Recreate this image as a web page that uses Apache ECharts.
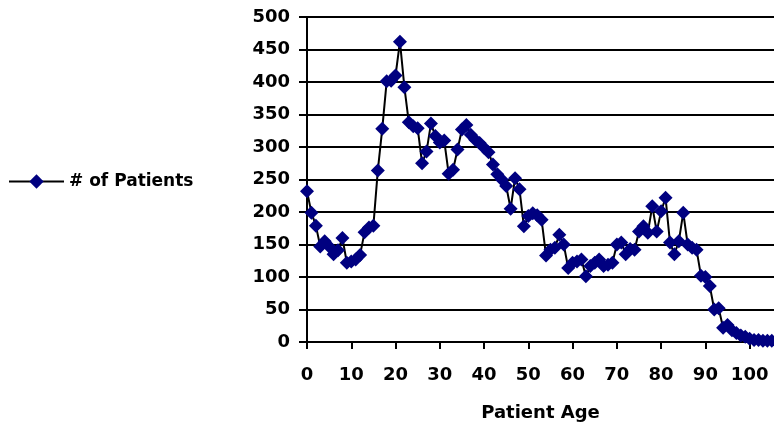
<!DOCTYPE html>
<html>
<head>
<meta charset="utf-8">
<script src="https://cdn.jsdelivr.net/npm/echarts@6/dist/echarts.min.js"></script>
<style>
html,body{margin:0;padding:0;background:#fff;}
#chart{width:774px;height:427px;}
</style>
</head>
<body>
<div id="chart"></div>
<script>
var seriesName = '# of Patients';
var xAxisTitle = 'Patient Age';
var ages = [];
for (var i = 0; i <= 105; i++) ages.push(i);
var patients = [232,199,179,147,155,147,135,141,160,122,
  124,127,134,169,176,179,264,328,401,402,
  410,462,392,338,332,329,275,293,336,317,
  307,310,259,265,296,327,334,319,311,306,
  299,292,273,258,250,240,205,252,235,178,
  194,198,195,188,133,142,145,165,150,114,
  122,124,127,101,117,122,127,117,119,122,
  150,153,135,143,142,170,178,168,209,170,
  201,222,153,135,155,199,150,145,142,102,
  100,86,50,52,22,26,18,14,10,8,
  5,3,3,2,2,2];
var yTicks = [0,50,100,150,200,250,300,350,400,450,500];

var points = ages.map(function(a, i){ return [a, patients[i]]; });
var font = 'DejaVu Sans';
var chart = echarts.init(document.getElementById('chart'));
chart.setOption({
  animation: false,
  backgroundColor: '#fff',
  textStyle: {fontFamily: font, color: '#000'},
  legend: {
    left: 3, top: 168, padding: 5,
    itemWidth: 55, itemHeight: 18,
    textStyle: {fontFamily: font, fontWeight: 'bold', fontSize: 17, color: '#000'},
    data: [seriesName]
  },
  grid: {left: 307, right: 0, top: 17, bottom: 84, containLabel: false},
  xAxis: {
    type: 'value', min: 0, max: 105.5, interval: 10,
    name: xAxisTitle, nameLocation: 'middle', nameGap: 62,
    nameTextStyle: {fontFamily: font, fontWeight: 'bold', fontSize: 18, color: '#000'},
    axisLine: {show: true, onZero: false, lineStyle: {color: '#000', width: 2}},
    axisTick: {show: true, length: 7, lineStyle: {color: '#000', width: 2}},
    axisLabel: {
      margin: 24, showMaxLabel: false,
      fontFamily: font, fontWeight: 'bold', fontSize: 18, color: '#000',
      formatter: function(v){ return v % 10 === 0 ? String(v) : ''; }
    },
    splitLine: {show: false}
  },
  yAxis: {
    type: 'value', min: yTicks[0], max: yTicks[yTicks.length-1], interval: 50,
    axisLine: {show: true, lineStyle: {color: '#000', width: 2}},
    axisTick: {show: true, length: 8, lineStyle: {color: '#000', width: 2}},
    axisLabel: {margin: 17, fontFamily: font, fontWeight: 'bold', fontSize: 18, color: '#000'},
    splitLine: {show: true, lineStyle: {color: '#000', width: 2}}
  },
  series: [{
    name: seriesName,
    type: 'line',
    data: points,
    symbol: 'diamond',
    symbolSize: 14,
    showAllSymbol: true,
    lineStyle: {color: '#000', width: 2},
    itemStyle: {color: '#000080', borderWidth: 0}
  }]
});
</script>
</body>
</html>
